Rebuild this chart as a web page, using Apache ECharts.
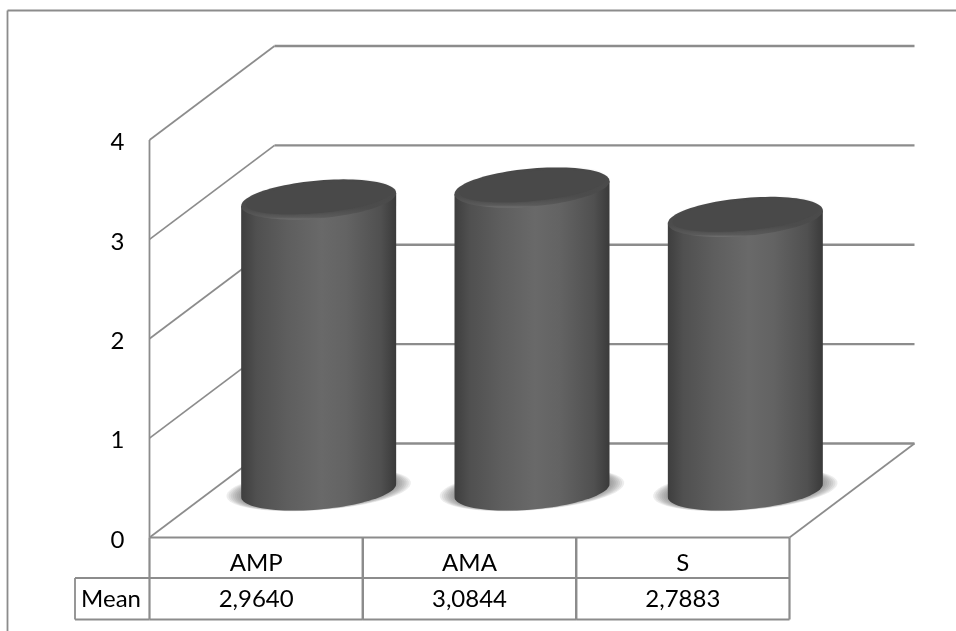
<!DOCTYPE html>
<html>
<head>
<meta charset="utf-8">
<style>html,body{margin:0;padding:0;background:#fff}#chart{width:956px;height:631px}</style>
<script src="https://cdn.jsdelivr.net/npm/echarts@6/dist/echarts.min.js"></script>
</head>
<body>
<div id="chart"></div>
<script>
// Mean scores per group
const categories = ['AMP', 'AMA', 'S'];
const meanValues = [2.9640, 3.0844, 2.7883];
const yTicks = [0, 1, 2, 3, 4];
const rowLabel = 'Mean';

// Oblique projection of the chart box
const DEPTH_X = 125;
const DEPTH_Y = 94;
const LINE = '#8c8c8c';
const FONT = 'Lato, Carlito, sans-serif';
const FONT_SIZE = 24;

// Cylinder shape
const RADIUS_X = 77.5;
const RADIUS_Y = 19;
const TILT = 6.5;
const TOP_DROP = 3.5;

const fmt = v => v.toFixed(4).replace('.', ',');

function ellipse(cx, cy, a, b, k, from, to, steps) {
  const pts = [];
  for (let i = 0; i <= steps; i++) {
    const t = from + (to - from) * i / steps;
    pts.push([cx + a * Math.cos(t), cy - k * Math.cos(t) + b * Math.sin(t)]);
  }
  return pts;
}

function seg(x1, y1, x2, y2, w) {
  return { type: 'line', shape: { x1, y1, x2, y2 }, style: { stroke: LINE, lineWidth: w, fill: null } };
}

// Side wall, back wall and floor lines, one set per tick
function renderWalls(params, api) {
  const box = params.coordSys;
  const y = api.coord([0, api.value(1)])[1];
  const left = box.x, right = box.x + box.width;
  const kids = [
    seg(left, y, left + DEPTH_X, y - DEPTH_Y, 1.7),
    seg(left + DEPTH_X, y - DEPTH_Y, right + DEPTH_X, y - DEPTH_Y, 2.4)
  ];
  if (api.value(1) === yTicks[0]) {
    kids.push(seg(left, box.y, left, y, 1.8));
    kids.push(seg(left, y, right, y, 2.2));
    kids.push(seg(right, y, right + DEPTH_X, y - DEPTH_Y, 1.7));
  }
  return { type: 'group', children: kids };
}

function renderCylinder(params, api) {
  const centre = api.coord([api.value(0), api.value(1)]);
  const base = api.coord([api.value(0), 0]);
  const cx = centre[0] + DEPTH_X / 2;
  const baseY = base[1] - DEPTH_Y / 2;
  const topY = centre[1] - DEPTH_Y / 2 + TOP_DROP;
  const kids = [];

  // Soft contact shadow on the floor
  for (let i = 7; i >= 1; i--) {
    kids.push({
      type: 'polygon',
      shape: { points: ellipse(cx, baseY - 1, RADIUS_X + i * 2.1, RADIUS_Y + i * 0.25, TILT, 0, Math.PI * 2, 72) },
      style: { fill: 'rgba(90,90,90,0.11)' }
    });
  }

  // Body: side walls plus the near half of the base ellipse
  const body = [[cx - RADIUS_X, topY + TILT], [cx + RADIUS_X, topY - TILT]]
    .concat(ellipse(cx, baseY, RADIUS_X, RADIUS_Y, TILT, 0, Math.PI, 48));
  kids.push({
    type: 'polygon',
    shape: { points: body },
    style: {
      fill: new echarts.graphic.LinearGradient(0, 0, 1, 0, [
        { offset: 0, color: '#3e3e3e' },
        { offset: 0.1, color: '#505050' },
        { offset: 0.3, color: '#5e5e5e' },
        { offset: 0.52, color: '#696969' },
        { offset: 0.68, color: '#636363' },
        { offset: 0.9, color: '#505050' },
        { offset: 1, color: '#3a3a3a' }
      ])
    }
  });

  // Top cap with a light bevel along its near edge
  kids.push({
    type: 'polygon',
    shape: { points: ellipse(cx, topY, RADIUS_X, RADIUS_Y, TILT, 0, Math.PI * 2, 96) },
    style: {
      fill: new echarts.graphic.LinearGradient(0, 0, 0, 1, [
        { offset: 0, color: '#484848' },
        { offset: 0.72, color: '#4c4c4c' },
        { offset: 0.94, color: '#5a5a5a' },
        { offset: 1, color: '#707070' }
      ])
    }
  });
  kids.push({
    type: 'polygon',
    shape: { points: ellipse(cx, topY - 1.5, RADIUS_X - 5, RADIUS_Y - 4, TILT, 0, Math.PI * 2, 96) },
    style: { fill: '#494949', shadowBlur: 3, shadowColor: '#494949' }
  });
  return { type: 'group', children: kids };
}

// Data table under the plot: one cell per category
function renderCell(params, api) {
  const box = params.coordSys;
  const c = api.coord([api.value(0), 0]);
  const band = api.size([1, 0])[0];
  const x0 = c[0] - band / 2, x1 = c[0] + band / 2;
  const yTop = box.y + box.height, yMid = yTop + 40.5, yEnd = yTop + 82;
  const textY = (yMid + yEnd) / 2 + 0.5;
  const kids = [
    seg(x0, yMid, x1, yMid, 2.2),
    seg(x0, yEnd, x1, yEnd, 2.2),
    seg(x0, yTop, x0, yEnd, 2.2),
    seg(x1, yTop, x1, yEnd, 2.2),
    {
      type: 'text',
      style: {
        x: c[0], y: textY, text: fmt(api.value(1)),
        fill: '#000', font: FONT_SIZE + 'px ' + FONT, align: 'center', verticalAlign: 'middle'
      }
    }
  ];
  if (api.value(0) === 0) {
    kids.push(seg(x0 - 74.5, yMid, x0, yMid, 1.8));
    kids.push(seg(x0 - 74.5, yEnd, x0, yEnd, 1.8));
    kids.push(seg(x0 - 74.5, yMid, x0 - 74.5, yEnd, 1.8));
    kids.push({
      type: 'text',
      style: {
        x: x0 - 38.5, y: textY, text: rowLabel,
        fill: '#000', font: FONT_SIZE + 'px ' + FONT, align: 'center', verticalAlign: 'middle'
      }
    });
  }
  return { type: 'group', children: kids };
}

const chart = echarts.init(document.getElementById('chart'), null, { renderer: 'canvas' });
const pointData = meanValues.map((v, i) => [i, v]);

chart.setOption({
  animation: false,
  backgroundColor: '#fff',
  grid: { left: 149.5, top: 140, width: 640, height: 397.5 },
  xAxis: {
    type: 'category',
    data: categories,
    axisLine: { show: false },
    axisTick: { show: false },
    splitLine: { show: false },
    axisLabel: { color: '#000', fontFamily: FONT, fontSize: FONT_SIZE, margin: 14 }
  },
  yAxis: {
    type: 'value',
    min: 0,
    max: 4,
    interval: 1,
    axisLine: { show: false },
    axisTick: { show: false },
    splitLine: { show: false },
    axisLabel: {
      color: '#000',
      margin: 25,
      formatter: '{d|{value}}',
      rich: { d: { color: '#000', fontFamily: FONT, fontSize: FONT_SIZE, padding: [5, 0, 0, 0] } }
    }
  },
  // Outer chart frame, open towards the right and bottom
  graphic: [
    { type: 'line', silent: true, shape: { x1: 7.5, y1: 10.5, x2: 956, y2: 10.5 }, style: { stroke: LINE, lineWidth: 1.8 } },
    { type: 'line', silent: true, shape: { x1: 7.5, y1: 10.5, x2: 7.5, y2: 631 }, style: { stroke: LINE, lineWidth: 1.8 } }
  ],
  series: [
    { type: 'custom', name: 'walls', z: 1, silent: true, renderItem: renderWalls, data: yTicks.map(t => [0, t]) },
    { type: 'custom', name: 'Mean', z: 2, silent: true, renderItem: renderCylinder, data: pointData },
    { type: 'custom', name: 'table', z: 3, silent: true, renderItem: renderCell, data: pointData }
  ]
});
</script>
</body>
</html>
